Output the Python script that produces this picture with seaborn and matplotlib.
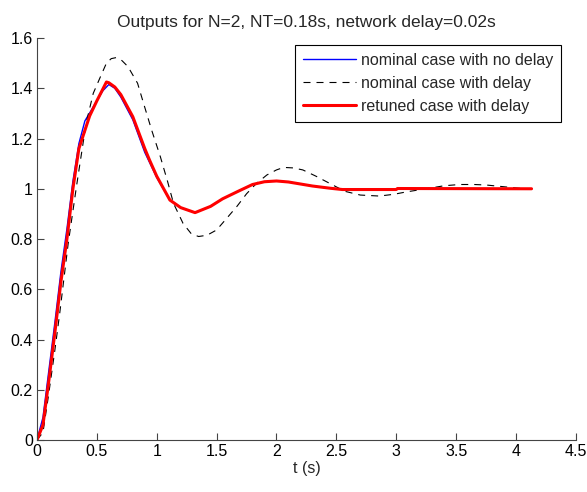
import seaborn as sns
import matplotlib.pyplot as plt
from matplotlib.ticker import FuncFormatter

# step responses
t_nodelay = [0, 0.05, 0.10, 0.15, 0.20, 0.25, 0.30, 0.35, 0.40, 0.45, 0.50, 0.55,
             0.60, 0.65, 0.70, 0.80, 0.90, 1.00, 1.11, 1.20, 1.32, 1.45, 1.55,
             1.68, 1.80, 1.90, 2.00, 2.10, 2.20, 2.30, 2.45, 2.55, 3.00, 3.01, 4.13]
y_nodelay = [0, 0.09, 0.28, 0.47, 0.67, 0.84, 1.03, 1.18, 1.27, 1.31, 1.35, 1.39,
             1.415, 1.40, 1.365, 1.275, 1.145, 1.045, 0.955, 0.925, 0.905, 0.93, 0.96,
             0.99, 1.017, 1.028, 1.031, 1.027, 1.019, 1.011, 1.002, 0.998, 0.998, 1.001, 1.0]

t_delay = [0, 0.05, 0.094, 0.15, 0.19, 0.26, 0.33, 0.41, 0.47, 0.53, 0.58, 0.62,
           0.66, 0.71, 0.76, 0.84, 0.89, 0.96, 1.03, 1.09, 1.14, 1.22, 1.29, 1.35,
           1.42, 1.50, 1.58, 1.67, 1.75, 1.83, 1.92, 2.00, 2.06, 2.14, 2.22, 2.33,
           2.45, 2.57, 2.70, 2.86, 2.98, 3.09, 3.25, 3.40, 3.53, 3.65, 3.75, 3.90,
           4.09, 4.13]
y_delay = [0, 0.03, 0.17, 0.36, 0.505, 0.78, 1.01, 1.26, 1.38, 1.446, 1.50, 1.518,
           1.522, 1.51, 1.486, 1.42, 1.34, 1.23, 1.128, 1.03, 0.942, 0.862, 0.82, 0.81,
           0.815, 0.836, 0.88, 0.93, 0.98, 1.02, 1.055, 1.075, 1.085, 1.083, 1.075, 1.05,
           1.02, 0.99, 0.975, 0.971, 0.978, 0.988, 1.0, 1.012, 1.017, 1.017, 1.015, 1.008,
           0.999, 0.998]

t_retuned = [0, 0.05, 0.10, 0.15, 0.20, 0.25, 0.30, 0.35, 0.44, 0.50, 0.58, 0.60,
             0.65, 0.70, 0.80, 0.90, 0.94, 1.00, 1.11, 1.20, 1.32, 1.45, 1.55, 1.68,
             1.80, 1.90, 2.00, 2.10, 2.20, 2.30, 2.45, 2.55, 3.00, 3.01, 4.13]
y_retuned = [0, 0.06, 0.24, 0.43, 0.63, 0.80, 1.00, 1.16, 1.29, 1.35, 1.425, 1.422,
             1.405, 1.375, 1.287, 1.16, 1.114, 1.05, 0.955, 0.925, 0.905, 0.93, 0.96, 0.99,
             1.017, 1.028, 1.031, 1.027, 1.019, 1.011, 1.002, 0.997, 0.997, 1.001, 1.0]

sns.set_style("white")
plt.rcParams['font.family'] = ['Liberation Sans', 'DejaVu Sans']
plt.rcParams['font.size'] = 11.5

fig = plt.figure(figsize=(5.87, 4.92), dpi=100)
ax = fig.add_axes([0.063, 0.1057, 0.918, 0.817])

sns.lineplot(x=t_nodelay, y=y_nodelay, ax=ax, color="#0000FF", linewidth=1.0,
             sort=False, estimator=None, label="nominal case with no delay")
sns.lineplot(x=t_delay, y=y_delay, ax=ax, color="black", linewidth=0.8,
             sort=False, estimator=None, label="nominal case with delay")
ax.lines[-1].set_dashes([6.3, 5.4])
sns.lineplot(x=t_retuned, y=y_retuned, ax=ax, color="#FF0000", linewidth=2.2,
             sort=False, estimator=None, label="retuned case with delay")

ax.set_xlim(0, 4.5)
ax.set_ylim(0, 1.6)
ax.set_xticks([0, 0.5, 1, 1.5, 2, 2.5, 3, 3.5, 4, 4.5])
ax.set_yticks([0, 0.2, 0.4, 0.6, 0.8, 1, 1.2, 1.4, 1.6])
fmt = FuncFormatter(lambda v, p: "%g" % v)
ax.xaxis.set_major_formatter(fmt)
ax.yaxis.set_major_formatter(fmt)
ax.tick_params(direction="in", length=5, width=0.8, color="#444444",
               labelsize=11.5, labelcolor="black", pad=3, bottom=True, left=True)

for s in ["top", "right"]:
    ax.spines[s].set_visible(False)
for s in ["left", "bottom"]:
    ax.spines[s].set_color("#444444")
    ax.spines[s].set_linewidth(0.8)

ax.set_xlabel("t (s)", fontsize=11.5, labelpad=1)
ax.set_title("Outputs for N=2, NT=0.18s, network delay=0.02s", fontsize=12.5, pad=8)

leg = ax.legend(loc="upper right", bbox_to_anchor=(0.9725, 0.983), borderaxespad=0,
                fancybox=False, framealpha=1, edgecolor="black", fontsize=11.5,
                handlelength=3.3, labelspacing=0.5, handletextpad=0.32,
                borderpad=0.5)
leg.get_frame().set_linewidth(0.8)

fig.savefig("out.png", dpi=100)
